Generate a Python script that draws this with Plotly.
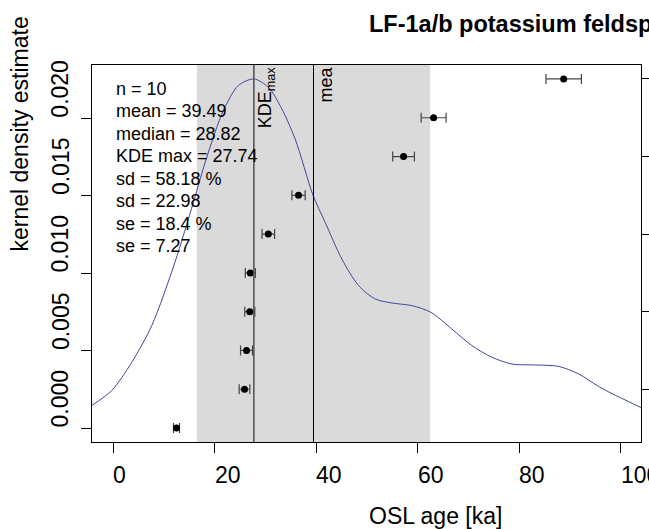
import plotly.graph_objects as go

# ---------------- data ----------------
ages = [12.5, 25.9, 26.3, 26.94, 27.05, 30.59, 36.54, 57.23, 63.15, 88.77]
age_err = [0.59, 1.05, 1.18, 0.99, 0.99, 1.24, 1.31, 2.14, 2.46, 3.49]
ranks = [1, 2, 3, 4, 5, 6, 7, 8, 9, 10]

kde_x = [-4.2, -0.26, 3.69, 7.63, 12.2, 15.84, 18.47, 21.75, 24.7, 27.73, 30.6, 33.25,
         35.87, 39.42, 41.78, 45.07, 48.36, 51.64, 54.93, 58.87, 62.61, 66.75, 70.69,
         74.63, 78.58, 83.17, 87.78, 91.72, 95.66, 98.3, 101.6, 104.0]
kde_y = [0.00145, 0.00242, 0.00424, 0.00661, 0.0107, 0.01458, 0.01748, 0.0205, 0.02211,
         0.02253, 0.0220, 0.0206, 0.01866, 0.01501, 0.01328, 0.01091, 0.0092, 0.00833,
         0.00807, 0.0079, 0.00747, 0.00639, 0.00532, 0.00457, 0.00413, 0.00407, 0.00398,
         0.00349, 0.00268, 0.00222, 0.00170, 0.00132]

kde_max = 27.74
mean_age = 39.49
sd_abs = 22.98

stats_lines = ["n = 10", "mean = 39.49", "median = 28.82", "KDE max = 27.74",
               "sd = 58.18 %", "sd = 22.98", "se = 18.4 %", "se = 7.27"]

x_ticks = [0, 20, 40, 60, 80, 100]
x_ticklabels = ["0", "20", "40", "60", "80", "100"]
y_ticks = [0.0, 0.005, 0.010, 0.015, 0.020]
y_ticklabels = ["0.000", "0.005", "0.010", "0.015", "0.020"]
rank_ticks = [2, 4, 6, 8, 10]

title_text = "LF-1a/b potassium feldspar"
xlab = "OSL age [ka]"
ylab = "kernel density estimate"

FONT = "Liberation Sans, Arial, sans-serif"

W = 649 - 92 - 8

fig = go.Figure()

fig.add_shape(type="rect", xref="x", yref="paper",
              x0=mean_age - sd_abs, x1=mean_age + sd_abs, y0=0, y1=1,
              fillcolor="#dadada", line=dict(width=0), layer="below")
fig.add_shape(type="line", xref="x", yref="paper", x0=kde_max, x1=kde_max, y0=0, y1=1,
              line=dict(color="#4d4d4d", width=1.5))
fig.add_shape(type="line", xref="x", yref="paper", x0=mean_age, x1=mean_age, y0=0, y1=1,
              line=dict(color="black", width=1))

fig.add_trace(go.Scatter(x=kde_x, y=kde_y, mode="lines",
                         line=dict(color="#3F489D", width=1, shape="spline", smoothing=0.8),
                         yaxis="y", showlegend=False, hoverinfo="skip"))
fig.add_trace(go.Scatter(x=ages, y=ranks, mode="markers", yaxis="y2",
                         marker=dict(color="black", size=7),
                         error_x=dict(type="data", array=age_err, color="#444444", thickness=1.2, width=5),
                         showlegend=False))

ann = []
for v, t in zip(x_ticks, x_ticklabels):
    ann.append(dict(x=v, xref="x", y=0, yref="paper", yanchor="middle", xanchor="left",
                    yshift=-33, xshift=-2, text=t, showarrow=False,
                    font=dict(family=FONT, size=23, color="black")))
for v, t in zip(y_ticks, y_ticklabels):
    ann.append(dict(x=-31.5 / W, xref="paper", y=v, yref="y", xanchor="center", yanchor="bottom",
                    yshift=-2, textangle=-90, text=t, showarrow=False,
                    font=dict(family=FONT, size=23, color="black")))
for i, t in enumerate(stats_lines):
    ann.append(dict(x=21.7 / W, xref="paper", y=1, yref="paper", xanchor="left", yanchor="middle",
                    yshift=-(88.7 - 65) - i * 22.5, text=t, showarrow=False,
                    font=dict(family=FONT, size=18, color="black")))
ann.append(dict(x=kde_max, xref="x", y=1, yref="paper", xanchor="left", yanchor="top",
                xshift=-1, yshift=1, textangle=-90, text="KDE<sub>max</sub>", showarrow=False,
                font=dict(family=FONT, size=18, color="black")))
ann.append(dict(x=mean_age, xref="x", y=1, yref="paper", xanchor="left", yanchor="top",
                textangle=-90, text="mea", showarrow=False,
                font=dict(family=FONT, size=18, color="black")))
ann.append(dict(x=0.5, xref="paper", y=1, yref="paper", xanchor="left", yanchor="middle",
                yshift=41, text="<b>" + title_text + "</b>", showarrow=False,
                font=dict(family=FONT, size=23.5, color="black")))
ann.append(dict(x=0.5, xref="paper", y=0, yref="paper", xanchor="left", yanchor="middle",
                yshift=-74, text=xlab, showarrow=False,
                font=dict(family=FONT, size=23, color="black")))
ann.append(dict(x=0, xref="paper", y=0.5, yref="paper", xanchor="center", yanchor="bottom",
                xshift=-72.5, textangle=-90, text=ylab, showarrow=False,
                font=dict(family=FONT, size=23, color="black")))

fig.update_layout(
    width=649, height=529,
    margin=dict(l=92, r=8, t=65, b=87, autoexpand=False),
    paper_bgcolor="white", plot_bgcolor="white",
    font=dict(family=FONT, color="black"),
    annotations=ann,
    xaxis=dict(range=[-4.14, 104.0], tickvals=x_ticks, ticks="outside", ticklen=10,
               tickcolor="black", showticklabels=False, showline=True, mirror=True,
               linecolor="black", linewidth=1, showgrid=False, zeroline=False, automargin=False),
    yaxis=dict(range=[-0.000901, 0.02343], tickvals=y_ticks, ticks="outside", ticklen=10,
               tickcolor="black", showticklabels=False, showline=True, mirror=True,
               linecolor="black", linewidth=1, showgrid=False, zeroline=False, automargin=False),
    yaxis2=dict(range=[0.64, 10.36], overlaying="y", side="right", tickvals=rank_ticks,
                ticks="outside", ticklen=10, tickcolor="black", showticklabels=False,
                showline=False, showgrid=False, zeroline=False, automargin=False),
)

fig.write_html("out.html")
